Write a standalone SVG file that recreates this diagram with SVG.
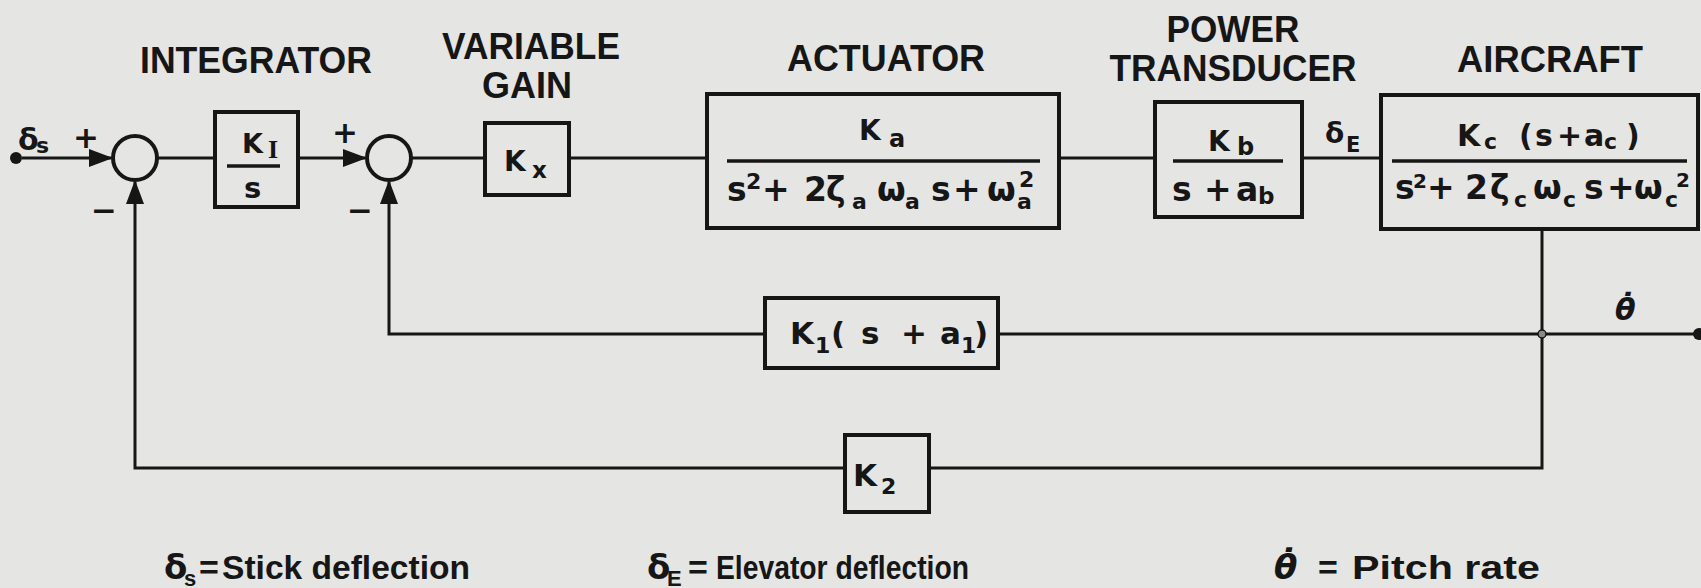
<svg xmlns="http://www.w3.org/2000/svg" width="1701" height="588" viewBox="0 0 1701 588">
<style>
.bg{fill:#e5e5e3}
.box{fill:none;stroke:#161616;stroke-width:4}
.ln{fill:none;stroke:#161616;stroke-width:3}
.frac{stroke:#161616;stroke-width:3.5}
.sum{fill:none;stroke:#161616;stroke-width:4}
.dot{fill:#161616}
.t{font-family:"Liberation Sans",Arial,sans-serif;font-weight:bold;font-size:36px;fill:#161616;text-anchor:middle}
.m{font-family:"DejaVu Sans","Liberation Sans",sans-serif;font-weight:bold;fill:#161616;font-size:33px}
.n{font-size:30px}
.sb{font-size:22px}
.lg{font-family:"Liberation Sans",Arial,sans-serif;font-weight:bold;font-size:34px;fill:#161616}
.gk{font-family:"DejaVu Sans",sans-serif}
.sg{font-family:"DejaVu Sans",sans-serif;font-weight:bold;font-size:31px;fill:#161616;text-anchor:middle}
</style>
<defs>
<marker id="ah" markerUnits="userSpaceOnUse" markerWidth="24" markerHeight="18" refX="22" refY="9" orient="auto"><path d="M0,0 L24,9 L0,18 Z" fill="#161616"/></marker>
</defs>
<rect class="bg" x="0" y="0" width="1701" height="588"/>

<g id="connectors">
<path class="ln" d="M22,158 H111" marker-end="url(#ah)"/>
<path class="ln" d="M157,158 H215"/>
<path class="ln" d="M298,158 H365" marker-end="url(#ah)"/>
<path class="ln" d="M411,158 H485"/>
<path class="ln" d="M569,158 H707"/>
<path class="ln" d="M1059,158 H1155"/>
<path class="ln" d="M1302,158 H1381"/>
<path class="ln" d="M1542,229 V468 H929"/>
<path class="ln" d="M845,468 H135 V182" marker-end="url(#ah)"/>
<path class="ln" d="M1542,334 H998"/>
<path class="ln" d="M765,334 H389 V182" marker-end="url(#ah)"/>
<path class="ln" d="M1542,334 H1699"/>
</g>

<g id="input">
<circle class="dot" cx="16" cy="158" r="6"/>
<text class="m"><tspan x="18" y="150" font-size="30">δ</tspan><tspan x="36" y="153" font-size="22">s</tspan></text>
</g>

<g id="sum1">
<circle class="sum" cx="135" cy="158" r="22"/>
<text class="sg" x="86" y="148">+</text>
<text class="sg" x="104" y="221">−</text>
</g>

<g id="integrator">
<text class="t" x="256" y="73" textLength="232" lengthAdjust="spacingAndGlyphs">INTEGRATOR</text>
<rect class="box" x="215" y="112" width="83" height="95"/>
<text class="m"><tspan x="242" y="153" font-size="27">K</tspan><tspan x="268" y="158" font-size="26" font-family="Liberation Serif, serif">I</tspan></text>
<line class="frac" x1="227" y1="166" x2="280" y2="166"/>
<text class="m"><tspan x="244" y="198" font-size="29">s</tspan></text>
</g>

<g id="sum2">
<circle class="sum" cx="389" cy="158" r="22"/>
<text class="sg" x="345" y="143">+</text>
<text class="sg" x="360" y="221">−</text>
</g>

<g id="gain">
<text class="t" x="531" y="59" textLength="178" lengthAdjust="spacingAndGlyphs">VARIABLE</text>
<text class="t" x="527" y="98" textLength="90" lengthAdjust="spacingAndGlyphs">GAIN</text>
<rect class="box" x="485" y="123" width="84" height="72"/>
<text class="m"><tspan x="504" y="171" font-size="28">K</tspan><tspan x="532" y="178" font-size="23">x</tspan></text>
</g>

<g id="actuator">
<text class="t" x="886" y="71" textLength="198" lengthAdjust="spacingAndGlyphs">ACTUATOR</text>
<rect class="box" x="707" y="94" width="352" height="134"/>
<text class="m"><tspan x="859" y="140" font-size="28">K</tspan><tspan x="889" y="147" font-size="24">a</tspan></text>
<line class="frac" x1="727" y1="161" x2="1040" y2="161"/>
<text class="m"><tspan x="727" y="201">s</tspan><tspan x="746" y="189" class="sb">2</tspan><tspan x="762" y="201">+</tspan><tspan x="804" y="201">2</tspan><tspan x="826" y="201">ζ</tspan><tspan x="852" y="209" class="sb">a</tspan><tspan x="877" y="201">ω</tspan><tspan x="905" y="209" class="sb">a</tspan><tspan x="931" y="201">s</tspan><tspan x="953" y="201">+</tspan><tspan x="987" y="201">ω</tspan><tspan x="1019" y="187" class="sb">2</tspan><tspan x="1017" y="209" class="sb">a</tspan></text>
</g>

<g id="transducer">
<text class="t" x="1233" y="42" textLength="133" lengthAdjust="spacingAndGlyphs">POWER</text>
<text class="t" x="1233" y="81" textLength="247" lengthAdjust="spacingAndGlyphs">TRANSDUCER</text>
<rect class="box" x="1155" y="102" width="147" height="115"/>
<text class="m"><tspan x="1208" y="151" font-size="28">K</tspan><tspan x="1237" y="155" font-size="24">b</tspan></text>
<line class="frac" x1="1173" y1="161" x2="1283" y2="161"/>
<text class="m"><tspan x="1172" y="201">s</tspan><tspan x="1204" y="201">+</tspan><tspan x="1236" y="201">a</tspan><tspan x="1258" y="204" font-size="23">b</tspan></text>
</g>

<g id="elevator-label">
<text class="m"><tspan x="1325" y="143" font-size="28">δ</tspan><tspan x="1346" y="152" font-size="21">E</tspan></text>
</g>

<g id="aircraft">
<text class="t" x="1550" y="72" textLength="186" lengthAdjust="spacingAndGlyphs">AIRCRAFT</text>
<rect class="box" x="1381" y="95" width="317" height="134"/>
<text class="m"><tspan x="1457" y="146" class="n">K</tspan><tspan x="1484" y="149" class="sb">c</tspan><tspan x="1519" y="146" class="n">(</tspan><tspan x="1535" y="146" class="n">s</tspan><tspan x="1557" y="146" class="n">+</tspan><tspan x="1584" y="146" class="n">a</tspan><tspan x="1604" y="149" class="sb">c</tspan><tspan x="1626" y="146" class="n">)</tspan></text>
<line class="frac" x1="1392" y1="161" x2="1687" y2="161"/>
<text class="m"><tspan x="1395" y="199">s</tspan><tspan x="1413" y="188" font-size="20">2</tspan><tspan x="1427" y="199">+</tspan><tspan x="1465" y="199">2</tspan><tspan x="1490" y="199">ζ</tspan><tspan x="1514" y="207" class="sb">c</tspan><tspan x="1533" y="199">ω</tspan><tspan x="1563" y="207" class="sb">c</tspan><tspan x="1584" y="199">s</tspan><tspan x="1607" y="199">+</tspan><tspan x="1634" y="199">ω</tspan><tspan x="1676" y="187" font-size="20">2</tspan><tspan x="1665" y="207" class="sb">c</tspan></text>
</g>

<g id="k1-block">
<rect class="box" x="765" y="298" width="233" height="70"/>
<text class="m"><tspan x="790" y="344" font-size="31">K</tspan><tspan x="815" y="353" class="sb">1</tspan><tspan x="831" y="344" font-size="31">(</tspan><tspan x="861" y="344" font-size="31">s</tspan><tspan x="901" y="344" font-size="31">+</tspan><tspan x="940" y="344" font-size="31">a</tspan><tspan x="961" y="353" class="sb">1</tspan><tspan x="974" y="344" font-size="31">)</tspan></text>
</g>

<g id="k2-block">
<rect class="box" x="845" y="435" width="84" height="77"/>
<text class="m"><tspan x="853" y="486" font-size="31">K</tspan><tspan x="881" y="494" class="sb">2</tspan></text>
</g>

<g id="output">
<circle cx="1542" cy="334" r="4" fill="#8a8a8a" stroke="#161616" stroke-width="1.5"/>
<circle class="dot" cx="1699" cy="334" r="6"/>
<text class="m"><tspan x="1615" y="320" font-size="30" font-style="italic">θ̇</tspan></text>
</g>

<g id="legend">
<text class="lg"><tspan x="164" y="579" class="gk">δ</tspan><tspan x="184" y="586" font-size="22">s</tspan></text>
<text class="lg" x="199" y="579">=</text>
<text class="lg" x="222" y="579" textLength="248" lengthAdjust="spacingAndGlyphs">Stick deflection</text>
<text class="lg"><tspan x="647" y="579" class="gk">δ</tspan><tspan x="667" y="586" font-size="22">E</tspan></text>
<text class="lg" x="688" y="579">=</text>
<text class="lg" x="716" y="579" textLength="253" lengthAdjust="spacingAndGlyphs">Elevator deflection</text>
<text class="lg"><tspan x="1274" y="579" class="gk" font-style="italic">θ̇</tspan></text>
<text class="lg" x="1318" y="579">=</text>
<text class="lg" x="1352" y="579" textLength="188" lengthAdjust="spacingAndGlyphs">Pitch rate</text>
</g>
</svg>
